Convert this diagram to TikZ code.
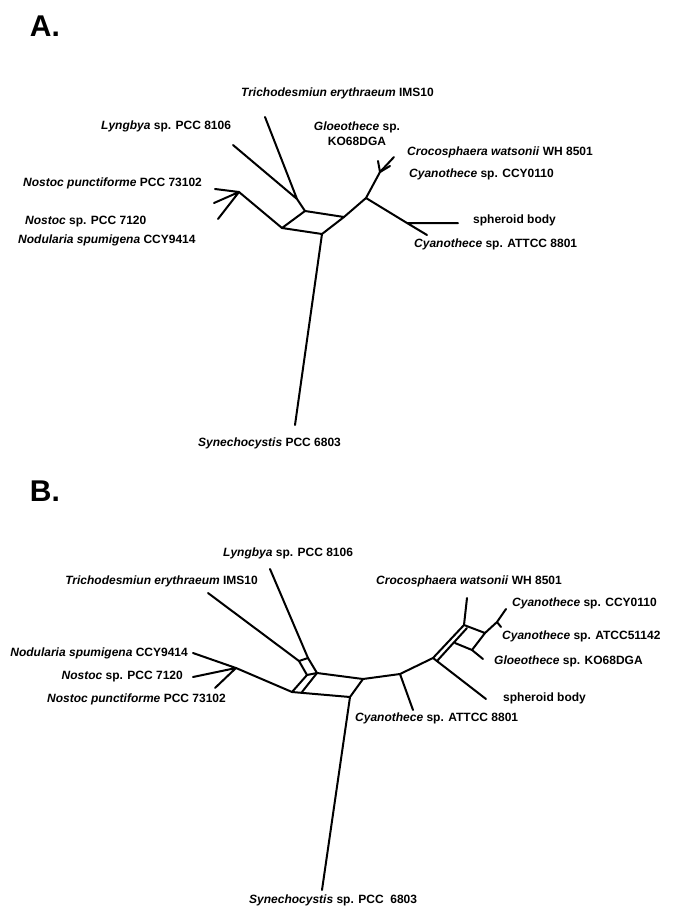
\documentclass[tikz,border=0pt]{standalone}
\usepackage{fontspec}
\setmainfont{Liberation Sans}
\begin{document}
\begin{tikzpicture}[
  x=1pt, y=-1pt,
  every node/.style={font=\bfseries\fontsize{12}{15}\selectfont, inner sep=0pt},
  branch/.style={line width=2pt, line cap=round, line join=round},
  taxon/.style={anchor=west},
  rtaxon/.style={anchor=east},
  panel/.style={font=\bfseries\fontsize{30}{34}\selectfont}
]
\useasboundingbox (0,0) rectangle (685,919);

%% ---------------- panel A ----------------
\node[panel] (pA) at (45,26) {A.};
%% tips and inner points
\coordinate (aTri) at (265,117);
\coordinate (aLyn) at (233,145);
\coordinate (aJ) at (297,199);
\coordinate (aTL) at (305,211);
\coordinate (aTR) at (344,217);
\coordinate (aBR) at (322,234);
\coordinate (aBL) at (282,228);
\coordinate (aNos) at (239,192);
\coordinate (aNpu) at (215,189);
\coordinate (aNsp) at (214,203);
\coordinate (aNod) at (218,219);
\coordinate (aSyn) at (295,425);
\coordinate (aR1) at (366,198);
\coordinate (aR2) at (380,172);
\coordinate (aCro) at (394,157);
\coordinate (aCcyA) at (378,161);
\coordinate (aCcyB) at (390,166);
\coordinate (aR3) at (407,223);
\coordinate (aSph) at (458,223);
\coordinate (aAtt) at (427,235);
%% branches
\draw[branch] (aTri) -- (aJ) (aLyn) -- (aJ) -- (aTL);
\draw[branch] (aTL) -- (aTR) -- (aBR) -- (aBL) -- cycle;
\draw[branch] (aNpu) -- (aNos) (aNsp) -- (aNos) (aNod) -- (aNos) -- (aBL);
\draw[branch] (aBR) -- (aSyn);
\draw[branch] (aTR) -- (aR1) -- (aR2) -- (aCro);
\draw[branch] (aR2) -- (aCcyA) (aR2) -- (aCcyB);
\draw[branch] (aR1) -- (aR3) -- (aSph) (aR3) -- (aAtt);
%% labels
\node[taxon] (laTri) at (241,93) {\textit{Trichodesmiun erythraeum} IMS10};
\node[taxon] (laLyn) at (101,126) {\textit{Lyngbya} sp. PCC 8106};
\node[align=center] (laGlo) at (357,134) {\textit{Gloeothece} sp.\\KO68DGA};
\node[taxon] (laCro) at (407,152) {\textit{Crocosphaera watsonii} WH 8501};
\node[taxon] (laCcy) at (409,174) {\textit{Cyanothece} sp. CCY0110};
\node[taxon] (laSph) at (473,220) {spheroid body};
\node[taxon] (laAtt) at (414,244) {\textit{Cyanothece} sp. ATTCC 8801};
\node[taxon] (laNpu) at (23,183) {\textit{Nostoc punctiforme} PCC 73102};
\node[taxon] (laNsp) at (25,222) {\textit{Nostoc} sp. PCC 7120};
\node[taxon] (laNod) at (18,240) {\textit{Nodularia spumigena} CCY9414};
\node[taxon] (laSyn) at (198,443) {\textit{Synechocystis} PCC 6803};

%% ---------------- panel B ----------------
\node[panel] (pB) at (45,491) {B.};
%% tips and inner points
\coordinate (bLyn) at (270,569);
\coordinate (bTri) at (208,593);
\coordinate (bS1) at (299,661);
\coordinate (bS2) at (308,658);
\coordinate (bTL) at (317,673);
\coordinate (bS4) at (307,675);
\coordinate (bTR) at (363,679);
\coordinate (bBR) at (350,697);
\coordinate (bBL) at (292,692);
\coordinate (bBM) at (302,692);
\coordinate (bNos) at (236,668);
\coordinate (bNod) at (193,653);
\coordinate (bNsp) at (193,677);
\coordinate (bNpu) at (215,688);
\coordinate (bSyn) at (322,890);
\coordinate (bR1) at (400,674);
\coordinate (bAtt) at (413,710);
\coordinate (bR2) at (433,658);
\coordinate (bR2i) at (437,661);
\coordinate (bSph) at (486,699);
\coordinate (rTL) at (464,625);
\coordinate (rTLi) at (467,628);
\coordinate (rTR) at (485,633);
\coordinate (rBR) at (472,650);
\coordinate (rBL) at (455,643);
\coordinate (bCro) at (467,598);
\coordinate (bR3) at (497,622);
\coordinate (bCcy) at (506,609);
\coordinate (bAtc) at (501,627);
\coordinate (bGlo) at (483,659);
%% branches
\draw[branch] (bTri) -- (bS1) (bLyn) -- (bS2);
\draw[branch] (bS1) -- (bS2) -- (bTL) -- (bS4) -- cycle;
\draw[branch] (bS4) -- (bBL) (bTL) -- (bBM);
\draw[branch] (bBL) -- (bBR) -- (bTR) -- (bTL);
\draw[branch] (bNod) -- (bNos) (bNsp) -- (bNos) (bNpu) -- (bNos) -- (bBL);
\draw[branch] (bBR) -- (bSyn);
\draw[branch] (bTR) -- (bR1) -- (bR2) (bR1) -- (bAtt);
\draw[branch] (bR2) -- (bSph);
\draw[branch] (bR2) -- (rTL) (bR2i) -- (rTLi);
\draw[branch] (rTL) -- (rTR) -- (rBR) -- (rBL);
\draw[branch] (rTL) -- (bCro);
\draw[branch] (rTR) -- (bR3) -- (bCcy) (bR3) -- (bAtc);
\draw[branch] (rBR) -- (bGlo);
%% labels
\node[taxon] (lbLyn) at (223,553) {\textit{Lyngbya} sp. PCC 8106};
\node[rtaxon] (lbTri) at (258,581) {\textit{Trichodesmiun erythraeum} IMS10};
\node[rtaxon] (lbNod) at (188,653) {\textit{Nodularia spumigena} CCY9414};
\node[rtaxon] (lbNsp) at (183,677) {\textit{Nostoc} sp. PCC 7120};
\node[rtaxon] (lbNpu) at (226,699) {\textit{Nostoc punctiforme} PCC 73102};
\node[rtaxon] (lbCro) at (562,581) {\textit{Crocosphaera watsonii} WH 8501};
\node[taxon] (lbCcy) at (512,603) {\textit{Cyanothece} sp. CCY0110};
\node[taxon] (lbAtc) at (502,636) {\textit{Cyanothece} sp. ATCC51142};
\node[taxon] (lbGlo) at (494,661) {\textit{Gloeothece} sp. KO68DGA};
\node[taxon] (lbSph) at (503,698) {spheroid body};
\node[taxon] (lbAtt) at (355,718) {\textit{Cyanothece} sp. ATTCC 8801};
\node[taxon] (lbSyn) at (249,900) {\textit{Synechocystis} sp. PCC~~6803};
\end{tikzpicture}
\end{document}
